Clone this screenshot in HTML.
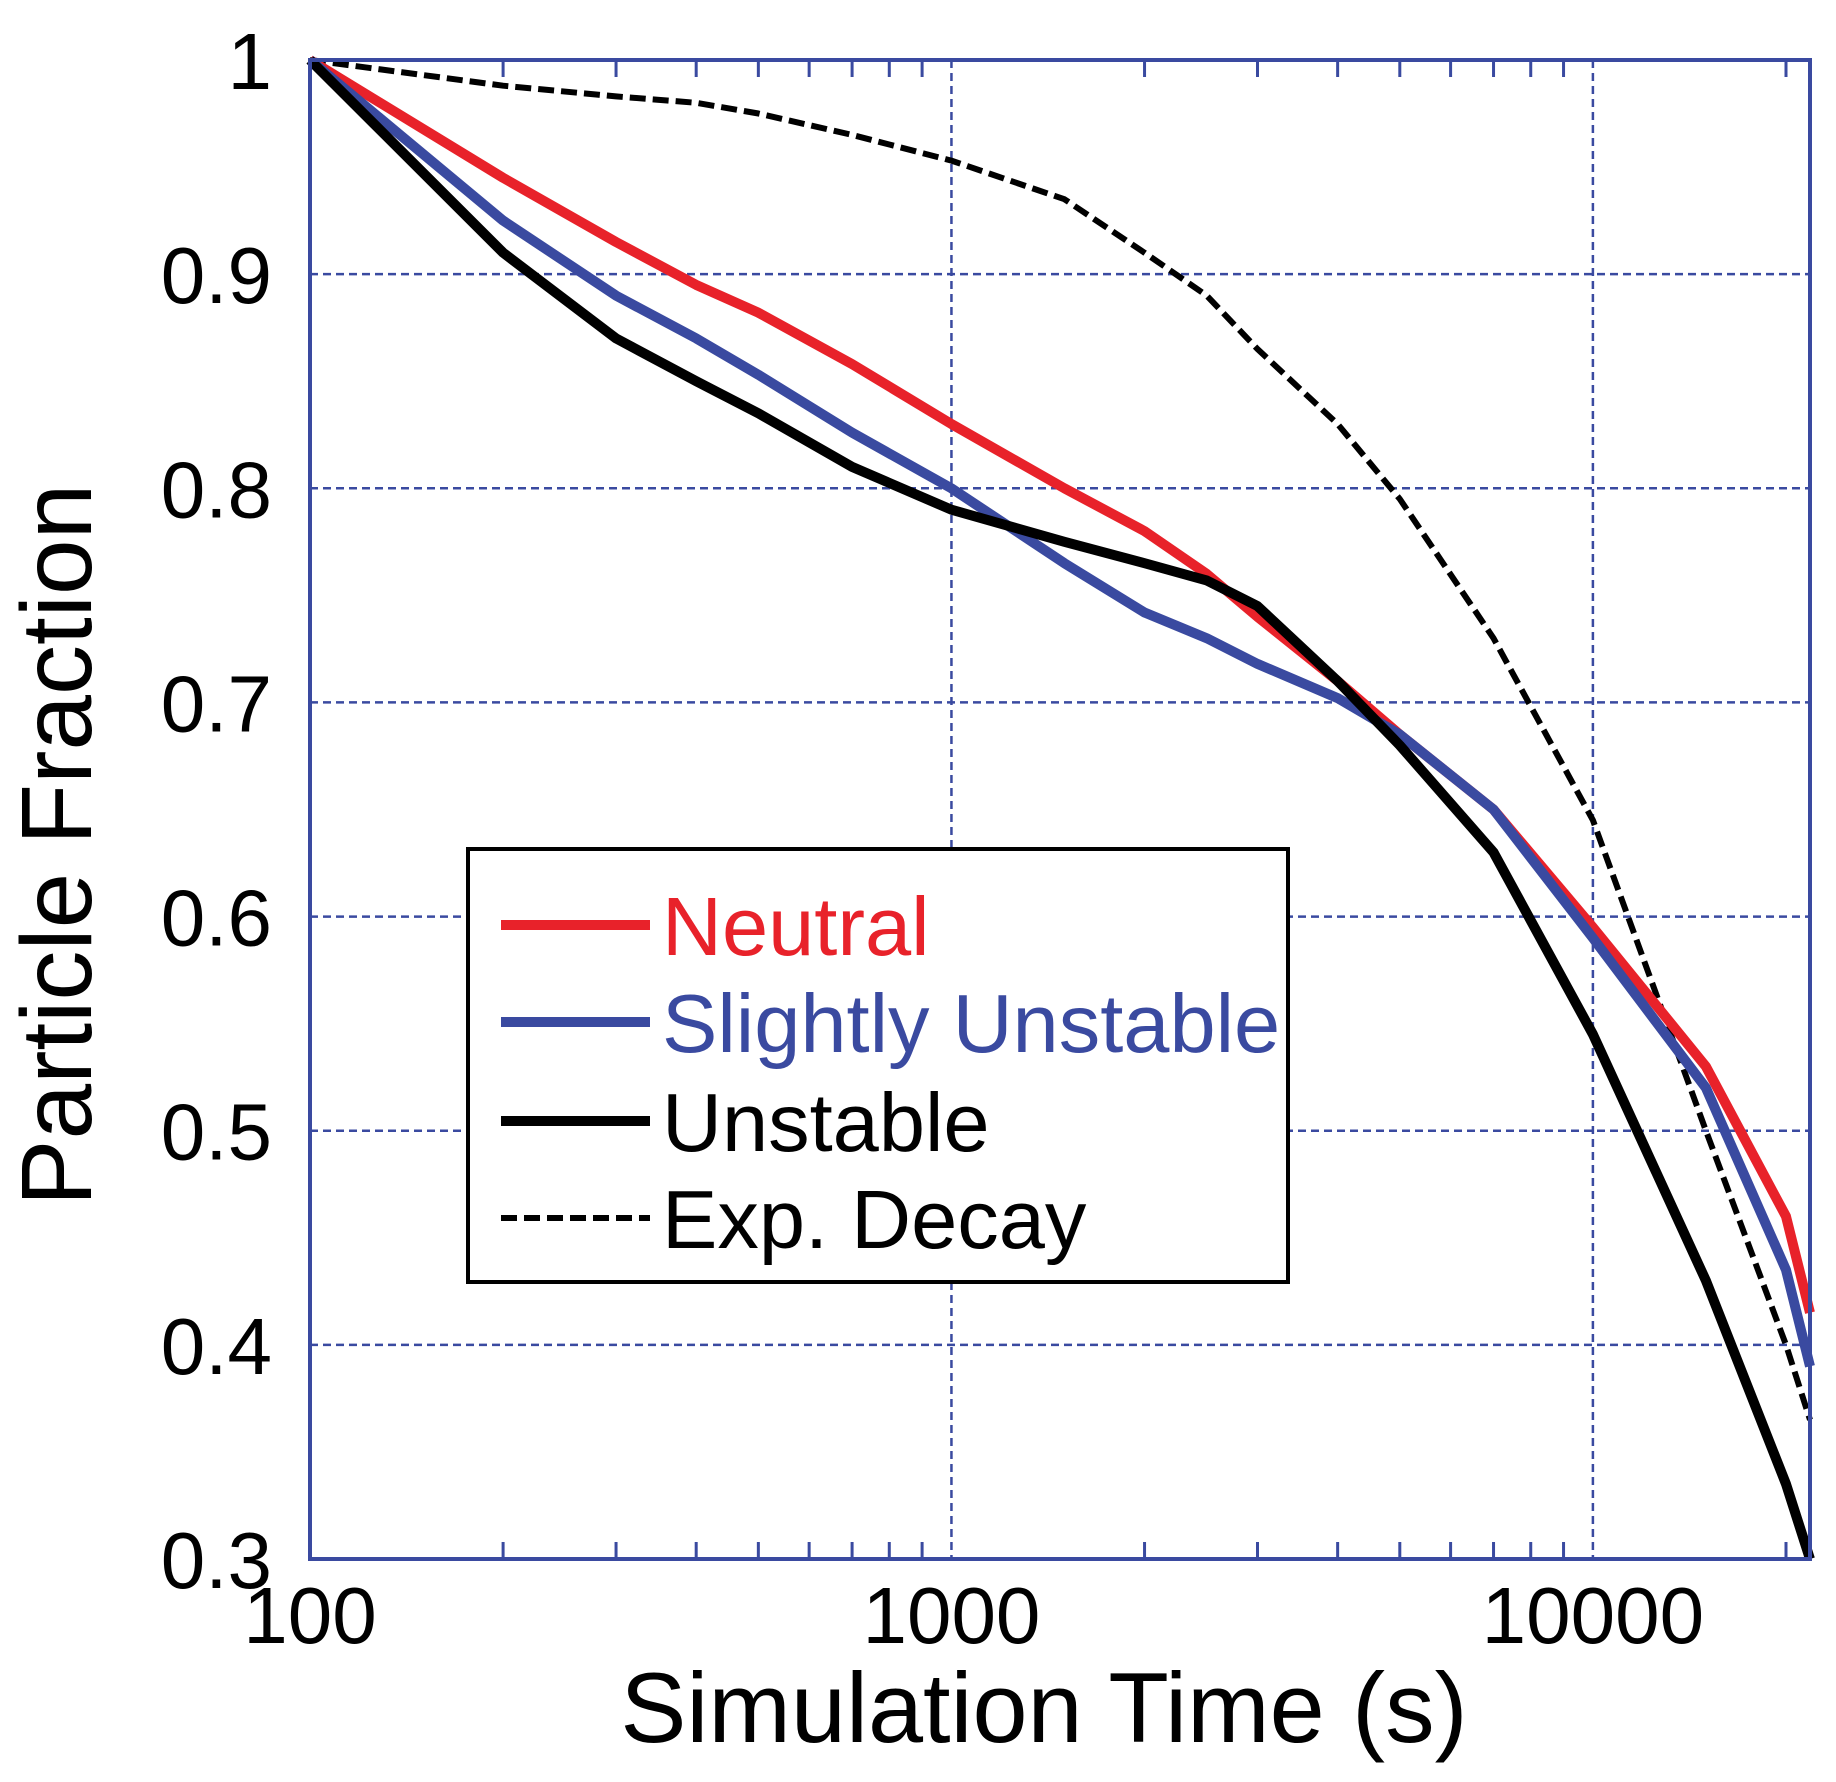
<!DOCTYPE html>
<html><head><meta charset="utf-8"><style>
html,body{margin:0;padding:0;background:#fff}
svg{display:block;font-family:"Liberation Sans",Arial,sans-serif}
</style></head><body>
<svg id="chart" width="1836" height="1782" viewBox="0 0 1836 1782" xmlns="http://www.w3.org/2000/svg">
<g id="grid"></g>
<g id="series"></g>
<g id="axes"></g>
<text x="0" y="0" transform="translate(91,845) rotate(-90)" text-anchor="middle" font-size="100">Particle Fraction</text>
<text x="1044" y="1742" text-anchor="middle" font-size="99">Simulation Time (s)</text>
<g>
<rect x="468" y="849" width="820" height="433" fill="#fff" stroke="#000" stroke-width="4"/>
<line x1="501" y1="925" x2="650" y2="925" stroke="#e8222a" stroke-width="10"/>
<text x="662" y="955" font-size="83" fill="#e8222a">Neutral</text>
<line x1="501" y1="1022" x2="650" y2="1022" stroke="#3a4aa0" stroke-width="10"/>
<text x="662" y="1052" font-size="83" fill="#3a4aa0">Slightly Unstable</text>
<line x1="501" y1="1121" x2="650" y2="1121" stroke="#000" stroke-width="10"/>
<text x="662" y="1151" font-size="83">Unstable</text>
<line x1="501" y1="1218" x2="650" y2="1218" stroke="#000" stroke-width="6" stroke-dasharray="16,7"/>
<text x="662" y="1248" font-size="83">Exp. Decay</text>
</g>
</svg>
<script>
const times = [100,200,300,400,500,700,1000,1500,2000,2500,3000,4000,5000,7000,10000,15000,20000,21800];
const neutral = [1,0.945,0.915,0.895,0.882,0.858,0.83,0.8,0.78,0.76,0.74,0.71,0.685,0.65,0.595,0.53,0.46,0.415];
const slightlyUnstable = [1,0.925,0.89,0.87,0.853,0.826,0.8,0.765,0.742,0.73,0.718,0.702,0.685,0.65,0.59,0.52,0.435,0.39];
const unstable = [1,0.91,0.87,0.85,0.835,0.81,0.79,0.775,0.765,0.757,0.745,0.71,0.68,0.63,0.545,0.43,0.335,0.3];
const expDecay = [1,0.988,0.983,0.98,0.975,0.965,0.953,0.935,0.91,0.89,0.865,0.83,0.795,0.73,0.645,0.5,0.4,0.365];
const xTicks = [100,1000,10000];
const yTicks = [0.3,0.4,0.5,0.6,0.7,0.8,0.9,1];
const yTickLabels = ["0.3","0.4","0.5","0.6","0.7","0.8","0.9","1"];

const L=310,R=1810,T=60,B=1559,XMIN=100,XMAX=21800,YMIN=0.3,YMAX=1;
const AX="#3a4aa0";
const sx=v=>L+(Math.log10(v)-Math.log10(XMIN))/(Math.log10(XMAX)-Math.log10(XMIN))*(R-L);
const sy=v=>B-(v-YMIN)/(YMAX-YMIN)*(B-T);
const NS="http://www.w3.org/2000/svg";
function mk(tag,parent,attrs){const e=document.createElementNS(NS,tag);for(const k in attrs)e.setAttribute(k,attrs[k]);parent.appendChild(e);return e;}
const grid=document.getElementById('grid'),axes=document.getElementById('axes'),ser=document.getElementById('series');

xTicks.forEach(t=>{
  const x=sx(t);
  if(t>XMIN){const g=mk('line',grid,{x1:x,y1:T,x2:x,y2:B,stroke:AX,'stroke-width':2.5,'stroke-dasharray':'8,5'});
  
  }
  const lb=mk('text',axes,{x:x,y:1643,'text-anchor':'middle','font-size':80});
  lb.textContent=t;
  
  
});
yTicks.forEach((t,i)=>{
  const y=sy(t);
  if(t>YMIN&&t<YMAX){const g=mk('line',grid,{x1:L,y1:y,x2:R,y2:y,stroke:AX,'stroke-width':2.5,'stroke-dasharray':'8,5'});
  
  }
  const lb=mk('text',axes,{x:272,y:y+29,'text-anchor':'end','font-size':80});
  lb.textContent=yTickLabels[i];
  
  
});
for(let d=100;d<=10000;d*=10){for(let m=2;m<=9;m++){const v=d*m;if(v>XMAX)break;const x=sx(v);
  const a=mk('line',axes,{x1:x,y1:B,x2:x,y2:B-17,stroke:AX,'stroke-width':3});
  
  
  const b=mk('line',axes,{x1:x,y1:T,x2:x,y2:T+17,stroke:AX,'stroke-width':3});
  
  }}
const frame=mk('rect',axes,{x:L,y:T,width:R-L,height:B-T,fill:'none',stroke:AX,'stroke-width':4});



function line(vals,color,w,dash,name){
  const d=times.map((t,i)=>(i?'L':'M')+sx(t).toFixed(1)+','+sy(vals[i]).toFixed(1)).join('');
  const p=mk('path',ser,{d:d,fill:'none',stroke:color,'stroke-width':w,'stroke-linejoin':'round'});
  if(dash)p.setAttribute('stroke-dasharray',dash);
  
  
}
line(expDecay,'#000',6,'16,7','line-exp-decay');
line(neutral,'#e8222a',10,null,'line-neutral');
line(slightlyUnstable,'#3a4aa0',10,null,'line-slightly-unstable');
line(unstable,'#000',10,null,'line-unstable');
</script>
</body></html>
